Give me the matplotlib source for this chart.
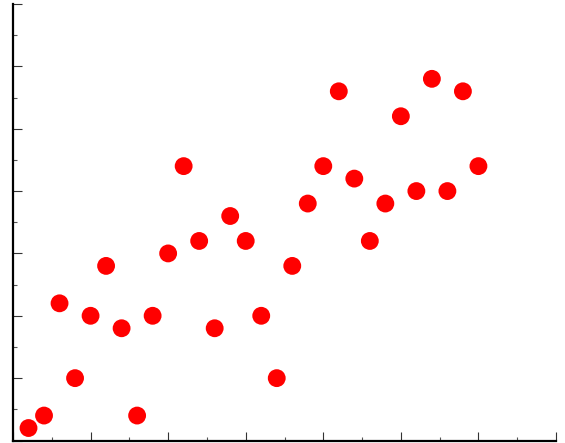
import numpy as np
import matplotlib
matplotlib.use("Agg")
import matplotlib.pyplot as plt
from matplotlib.ticker import MultipleLocator, NullFormatter

# data
x_vals = list(range(1, 31))
y_vals = [1, 2, 11, 5, 10, 14, 9, 2, 10, 15,
          22, 16, 9, 18, 16, 10, 5, 14, 19, 22,
          28, 21, 16, 19, 26, 20, 29, 20, 28, 22]

fig = plt.figure(figsize=(5.65, 4.43), dpi=100)
ax = fig.add_axes([13 / 565, 2.5 / 443, 543 / 565, 436.5 / 443])

ax.scatter(x_vals, y_vals, s=165, color='#ff0000', edgecolors='none', zorder=3)

ax.set_xlim(0, 35)
ax.set_ylim(0, 35)

ax.xaxis.set_major_locator(MultipleLocator(5))
ax.xaxis.set_minor_locator(MultipleLocator(2.5))
ax.yaxis.set_major_locator(MultipleLocator(5))
ax.yaxis.set_minor_locator(MultipleLocator(2.5))
ax.xaxis.set_major_formatter(NullFormatter())
ax.yaxis.set_major_formatter(NullFormatter())

ax.tick_params(which='major', direction='in', length=6.5, width=0.8, color='#333333')
ax.tick_params(which='minor', direction='in', length=3.2, width=0.8, color='#555555')

for side in ['top', 'right']:
    ax.spines[side].set_visible(False)
for side in ['left', 'bottom']:
    ax.spines[side].set_linewidth(1.6)
    ax.spines[side].set_color('black')

fig.savefig('out.png', dpi=100)
